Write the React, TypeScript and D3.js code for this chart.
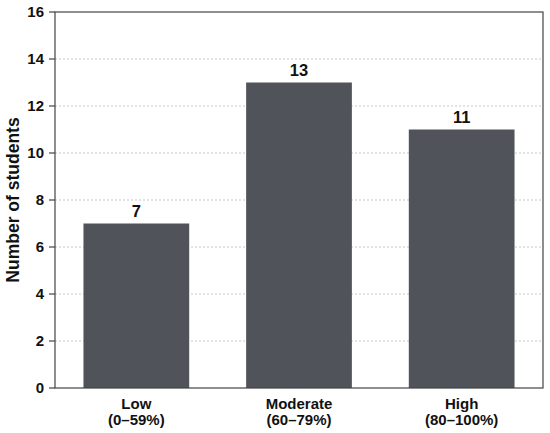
import * as d3 from 'd3';

const categories = ['Low', 'Moderate', 'High'];
const ranges = ['(0–59%)', '(60–79%)', '(80–100%)'];
const counts = [7, 13, 11];
const yTicks = [0, 2, 4, 6, 8, 10, 12, 14, 16];

const W = 550;
const H = 433;
const margin = { top: 12, right: 7, bottom: 45, left: 55 };
const font = '"Liberation Sans", Arial, sans-serif';

export default function App() {
  const innerW = W - margin.left - margin.right;
  const innerH = H - margin.top - margin.bottom;

  const x = d3.scaleBand<string>()
    .domain(categories)
    .range([0, innerW])
    .paddingInner(0.35)
    .paddingOuter(0.175);

  const y = d3.scaleLinear().domain([0, 16]).range([innerH, 0]);

  return (
    <div style={{ position: 'absolute', left: 0, top: 0 }}>
      <svg width={W} height={H} style={{ display: 'block', background: '#fff' }} fontFamily={font}>
        <g transform={`translate(${margin.left},${margin.top})`}>
          {/* dotted grid */}
          {yTicks.filter(t => t > 0 && t < 16).map(t => (
            <line key={t} x1={0} x2={innerW} y1={y(t)} y2={y(t)}
              stroke="#c8c8c8" strokeWidth={1} strokeDasharray="2,2" />
          ))}

          {/* bars */}
          {categories.map((c, i) => (
            <g key={c}>
              <rect x={x(c)} y={y(counts[i])} width={x.bandwidth()}
                height={innerH - y(counts[i])} fill="#505359" />
              <text x={(x(c) ?? 0) + x.bandwidth() / 2} y={y(counts[i]) - 7}
                textAnchor="middle" fontSize={16.5} fontWeight="bold" fill="#111">
                {counts[i]}
              </text>
            </g>
          ))}

          {/* frame */}
          <rect x={0} y={0} width={innerW} height={innerH} fill="none" stroke="#444" strokeWidth={1.2} />

          {/* y axis ticks */}
          {yTicks.map(t => (
            <g key={t} transform={`translate(0,${y(t)})`}>
              <line x1={-6} x2={0} stroke="#444" strokeWidth={1.2} />
              <text x={-11} dy="0.36em" textAnchor="end" fontSize={15} fontWeight="bold" fill="#111">{t}</text>
            </g>
          ))}

          {/* x axis labels */}
          {categories.map((c, i) => (
            <text key={c} x={(x(c) ?? 0) + x.bandwidth() / 2} y={innerH + 20.5}
              textAnchor="middle" fontSize={15} fontWeight="bold" fill="#111">
              <tspan x={(x(c) ?? 0) + x.bandwidth() / 2}>{c}</tspan>
              <tspan x={(x(c) ?? 0) + x.bandwidth() / 2} dy={16.5}>{ranges[i]}</tspan>
            </text>
          ))}

          <text transform={`translate(${-36},${innerH / 2}) rotate(-90)`} textAnchor="middle"
            fontSize={17.5} fontWeight="bold" fill="#111">
            Number of students
          </text>
        </g>
      </svg>
    </div>
  );
}
